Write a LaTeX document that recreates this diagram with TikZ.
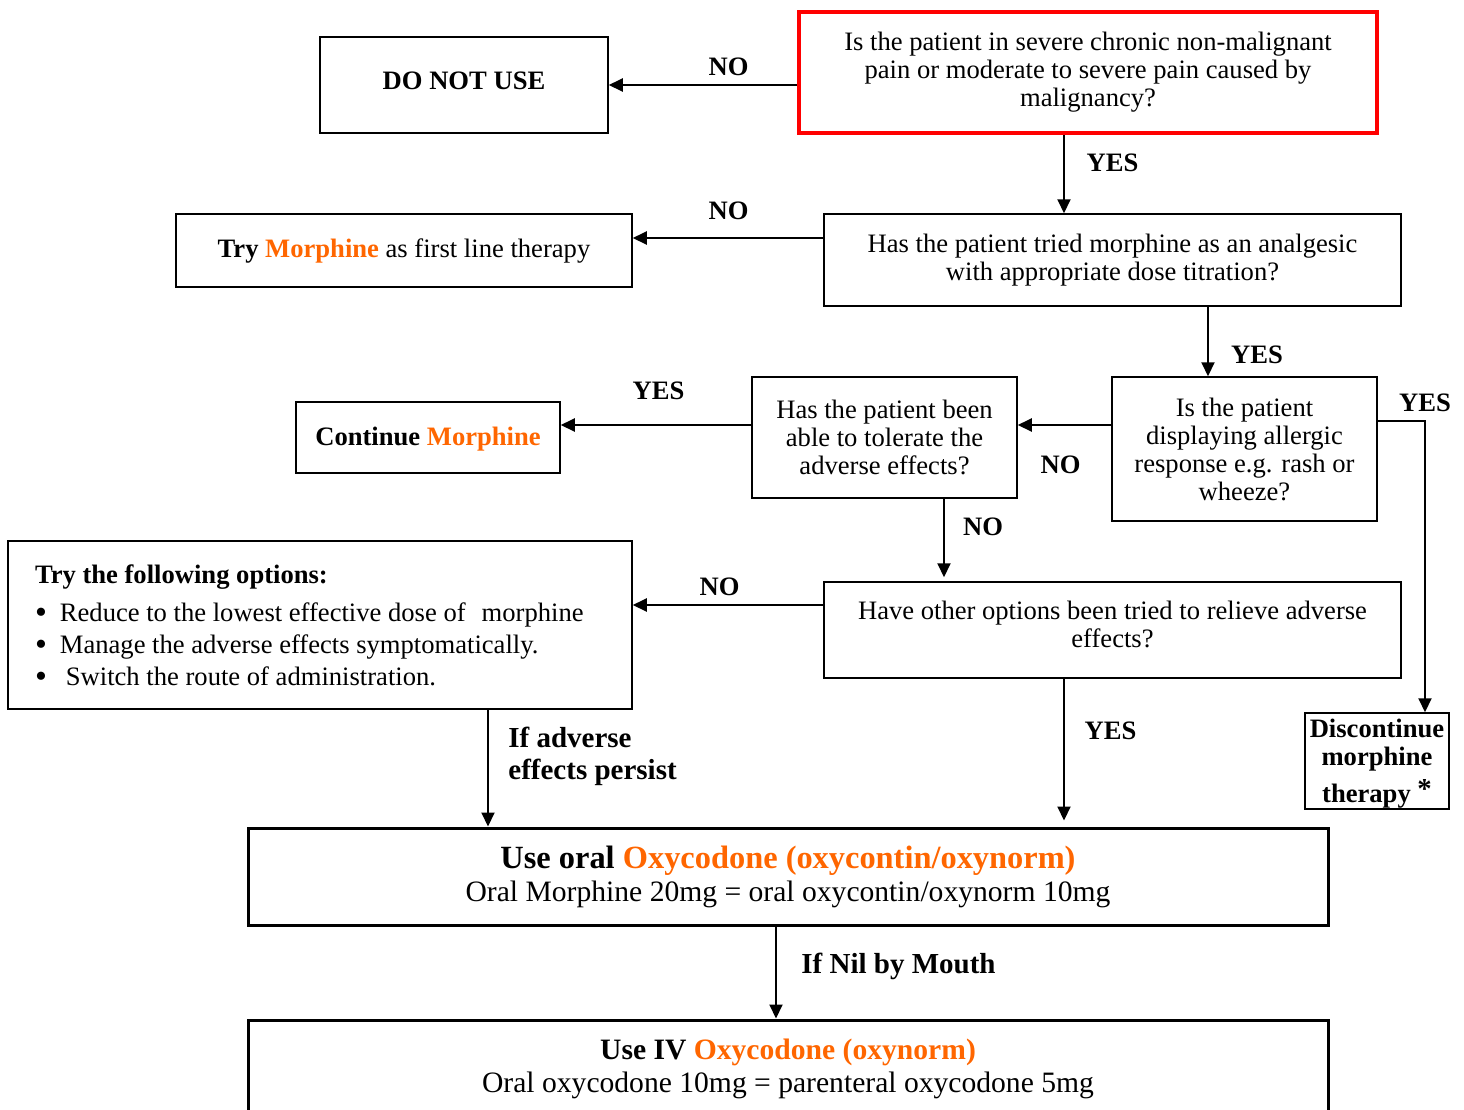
\documentclass[tikz,border=0pt]{standalone}
\usepackage{fontspec}
\setmainfont{Liberation Serif}
\usetikzlibrary{arrows.meta}
\definecolor{oxy}{RGB}{255,102,0}
\definecolor{redline}{RGB}{255,0,0}
\newcommand{\bigdot}{\smash{\raisebox{-1.2pt}{\fontsize{17}{16}\selectfont\textbullet}}}
\tikzset{
  box/.style={draw, rectangle, line width=0.75pt, inner sep=0pt, align=center,
    font=\fontsize{13.3}{14}\selectfont},
  bigbox/.style={box, line width=1.5pt, font=\fontsize{14.8}{16.5}\selectfont},
  arr/.style={-{Triangle[length=7pt,width=6.5pt]}, line width=1pt},
  lab/.style={inner sep=0pt, font=\fontsize{13.3}{15}\selectfont\bfseries},
  biglab/.style={lab, font=\fontsize{14.5}{16}\selectfont\bfseries},
}
\begin{document}
\begin{tikzpicture}[x=0.5pt,y=-0.5pt]
    \useasboundingbox (0,0) rectangle (1464,1110);

    % Question boxes
    \node[box, draw=redline, line width=2pt, minimum width=289pt, minimum height=60.5pt] (q1) at (1088,72.5)
        {Is the patient in severe chronic non-malignant\\ pain or moderate to severe pain caused by\\ malignancy?};
    \node[box, minimum width=288.5pt, minimum height=46pt] (q2) at (1112.5,260)
        {Has the patient tried morphine as an analgesic\\ with appropriate dose titration?};
    \node[box, minimum width=132.5pt, minimum height=72pt] (q3) at (1244.5,449)
        {Is the patient\\ displaying allergic\\ response e.g. rash or\\ wheeze?};
    \node[box, minimum width=132.5pt, minimum height=60.5pt] (q4) at (884.5,437.5)
        {Has the patient been\\ able to tolerate the\\ adverse effects?};
    \node[box, minimum width=288.5pt, minimum height=48pt, text depth=6pt] (q5) at (1112.5,630)
        {Have other options been tried to relieve adverse\\ effects?};

    % Outcome boxes
    \node[box, minimum width=144pt, minimum height=48pt, text depth=4pt, font=\fontsize{13.3}{14}\selectfont\bfseries] (donot) at (464,85) {DO NOT USE};
    \node[box, minimum width=228pt, minimum height=36.5pt] (trymorph) at (404,250.5)
        {\textbf{Try \textcolor{oxy}{Morphine}} as first line therapy};
    \node[box, minimum width=132pt, minimum height=35.5pt, text depth=1pt, font=\fontsize{13.3}{14}\selectfont\bfseries] (cont) at (428,437.5)
        {Continue \textcolor{oxy}{Morphine}};
    \node[box, minimum width=312pt, minimum height=84pt, text width=285pt, inner xsep=13.5pt, align=flush left,
        font=\fontsize{13.3}{16}\selectfont] (opts) at (320,625)
        {\textbf{Try the following options:}\\[3pt]
         \bigdot\hspace{6.5pt}Reduce to the lowest effective dose of\hspace{8pt}morphine\\
         \bigdot\hspace{6.5pt}Manage the adverse effects symptomatically.\\
         \bigdot\hspace{9.5pt}Switch the route of administration.};
    \node[box, minimum width=72pt, minimum height=48pt, text depth=0pt, font=\fontsize{13.3}{14}\selectfont\bfseries] (disc) at (1377,761)
        {Discontinue\\ morphine\\[3pt] therapy \raisebox{2pt}{\Large *}};
    \node[bigbox, minimum width=540pt, minimum height=48.5pt] (oral) at (788,876.5)
        {{\fontsize{16.2}{18}\selectfont\bfseries Use oral \textcolor{oxy}{Oxycodone (oxycontin/oxynorm)}}\\
         Oral Morphine 20mg = oral oxycontin/oxynorm 10mg};
    \node[bigbox, minimum width=540pt, minimum height=48.5pt] (iv) at (788,1068.5)
        {{\bfseries Use IV \textcolor{oxy}{Oxycodone (oxynorm)}}\\
         Oral oxycodone 10mg = parenteral oxycodone 5mg};

    % Connectors
    \draw[arr] (q1.west |- 0,85) -- (donot.east);
    \draw[arr] (1064,0 |- q1.south) -- (1064,0 |- q2.north);
    \draw[arr] (q2.west |- 0,238) -- (trymorph.east |- 0,238);
    \draw[arr] (1208,0 |- q2.south) -- (1208,0 |- q3.north);
    \draw[arr] (q3.west |- 0,425) -- (q4.east |- 0,425);
    \draw[arr] (q3.east |- 0,421) -| (disc.north -| 1425,0);
    \draw[arr] (q4.west |- 0,425) -- (cont.east |- 0,425);
    \draw[arr] (944,0 |- q4.south) -- ([yshift=2pt]944,0 |- q5.north);
    \draw[arr] (q5.west |- 0,605) -- (opts.east |- 0,605);
    \draw[arr] (488,0 |- opts.south) -- (488,0 |- oral.north);
    \draw[arr] (1064,0 |- q5.south) -- ([yshift=3pt]1064,0 |- oral.north);
    \draw[arr] (776,0 |- oral.south) -- (776,0 |- iv.north);

    % Labels
    \node[lab] (l1) at (728.5,67) {NO};
    \node[lab] (l2) at (1112.5,163) {YES};
    \node[lab] (l3) at (728.5,211) {NO};
    \node[lab] (l4) at (1257,355) {YES};
    \node[lab] (l5) at (1060.5,465) {NO};
    \node[lab] (l6) at (1425,403) {YES};
    \node[lab] (l7) at (658.5,391) {YES};
    \node[lab] (l8) at (983,527) {NO};
    \node[lab] (l9) at (719.5,587) {NO};
    \node[lab] (l10) at (1110.5,731) {YES};
    \node[biglab, anchor=west, align=left] (l11) at (508,756) {If adverse\\ effects persist};
    \node[biglab] (l12) at (898.5,966) {If Nil by Mouth};
\end{tikzpicture}
\end{document}
